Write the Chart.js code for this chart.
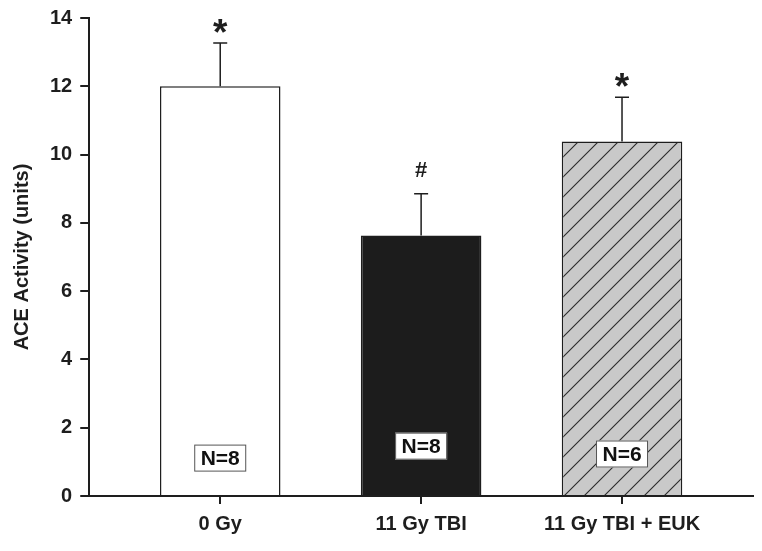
<!DOCTYPE html>
<html>
<head>
<meta charset="utf-8">
<script src="https://cdn.jsdelivr.net/npm/chart.js@4.4.1/dist/chart.umd.min.js"></script>
<style>
  html, body { margin: 0; padding: 0; background: #fff; }
  #wrap { width: 762px; height: 551px; }
</style>
</head>
<body>
<div id="wrap"><canvas id="chart" width="762" height="551"></canvas></div>
<script>
// --- Data ---
const categories = ['0 Gy', '11 Gy TBI', '11 Gy TBI + EUK'];
const meanValues = [12.0, 7.63, 10.38];
const errorTops = [13.27, 8.85, 11.68];
const sigMarks = ['*', '#', '*'];
const groupSizes = ['N=8', 'N=8', 'N=6'];
const sizeLabelY = [1.11, 1.46, 1.23];
const yTicks = [0, 2, 4, 6, 8, 10, 12, 14];

const ink = '#1e1e1e';
const fontFamily = '"Liberation Sans", Arial, sans-serif';

function hatchPattern() {
    const c = document.createElement('canvas');
    c.width = 20; c.height = 20;
    const g = c.getContext('2d');
    g.fillStyle = '#c9c9c9';
    g.fillRect(0, 0, 20, 20);
    g.strokeStyle = '#2a2a2a';
    g.lineWidth = 1.1;
    g.beginPath();
    g.moveTo(-2, 22); g.lineTo(22, -2);
    g.moveTo(-12, 12); g.lineTo(12, -12);
    g.moveTo(8, 32); g.lineTo(32, 8);
    g.stroke();
    return document.getElementById('chart').getContext('2d').createPattern(c, 'repeat');
}

// error bars, significance marks and N boxes
const annotate = {
    id: 'annotate',
    afterDatasetsDraw(chart) {
        const { ctx, scales: { x, y } } = chart;
        ctx.save();
        meanValues.forEach((v, i) => {
            const px = x.getPixelForValue(i);
            const top = y.getPixelForValue(errorTops[i]);
            const base = y.getPixelForValue(v);
            ctx.strokeStyle = ink;
            ctx.lineWidth = 1.5;
            ctx.beginPath();
            ctx.moveTo(px, base); ctx.lineTo(px, top);
            ctx.moveTo(px - 7, top); ctx.lineTo(px + 7, top);
            ctx.stroke();

            ctx.fillStyle = ink;
            ctx.textAlign = 'center';
            if (sigMarks[i] === '*') {
                ctx.textBaseline = 'alphabetic';
                ctx.font = 'bold 37px ' + fontFamily;
                ctx.fillText('*', px, top + 2);
            } else {
                ctx.textBaseline = 'middle';
                ctx.font = 'bold 22px ' + fontFamily;
                ctx.fillText(sigMarks[i], px, top - 23);
            }

            // N box
            const ny = y.getPixelForValue(sizeLabelY[i]);
            ctx.textBaseline = 'middle';
            ctx.font = 'bold 21px ' + fontFamily;
            const w = 52, h = 27;
            ctx.fillStyle = '#fff';
            ctx.fillRect(px - w / 2, ny - h / 2, w, h);
            ctx.strokeStyle = '#555';
            ctx.lineWidth = 1;
            ctx.strokeRect(px - w / 2 + 0.5, ny - h / 2 + 0.5, w - 1, h - 1);
            ctx.fillStyle = '#111';
            ctx.fillText(groupSizes[i], px, ny + 1);
        });
        ctx.restore();
    }
};

const tickFont = { family: fontFamily, size: 20, weight: 'bold' };

new Chart(document.getElementById('chart'), {
    type: 'bar',
    data: {
        datasets: [{
            data: meanValues.map((v, i) => ({ x: i, y: v })),
            backgroundColor: ['#ffffff', '#1c1c1c', hatchPattern()],
            borderColor: ink,
            borderWidth: 1.5,
            barPercentage: 0.6,
            categoryPercentage: 1
        }]
    },
    options: {
        responsive: false,
        animation: false,
        layout: { padding: { top: 0, right: 9, bottom: 7, left: 10 } },
        plugins: { legend: { display: false }, tooltip: { enabled: false } },
        scales: {
            x: {
                type: 'linear',
                offset: false,
                min: -0.652,
                max: 2.652,
                afterBuildTicks: s => { s.ticks = categories.map((c, i) => ({ value: i })); },
                ticks: {
                    callback: v => categories[v],
                    font: tickFont,
                    color: ink,
                    padding: 8,
                    maxRotation: 0
                },
                grid: { offset: false, drawOnChartArea: false, drawTicks: true, tickLength: 8, color: ink, lineWidth: 2 },
                border: { color: ink, width: 2 }
            },
            y: {
                min: 0,
                max: 14,
                afterBuildTicks: s => { s.ticks = yTicks.map(v => ({ value: v })); },
                ticks: { font: { family: fontFamily, size: 20, weight: 'bold', lineHeight: 1.0 }, color: ink, padding: 8 },
                grid: { drawOnChartArea: false, drawTicks: true, tickLength: 9, color: ink, lineWidth: 2 },
                border: { color: ink, width: 2 },
                title: {
                    display: true,
                    text: 'ACE Activity (units)',
                    font: tickFont,
                    color: ink,
                    padding: { top: 0, bottom: 8 }
                }
            }
        }
    },
    plugins: [annotate]
});
</script>
</body>
</html>
